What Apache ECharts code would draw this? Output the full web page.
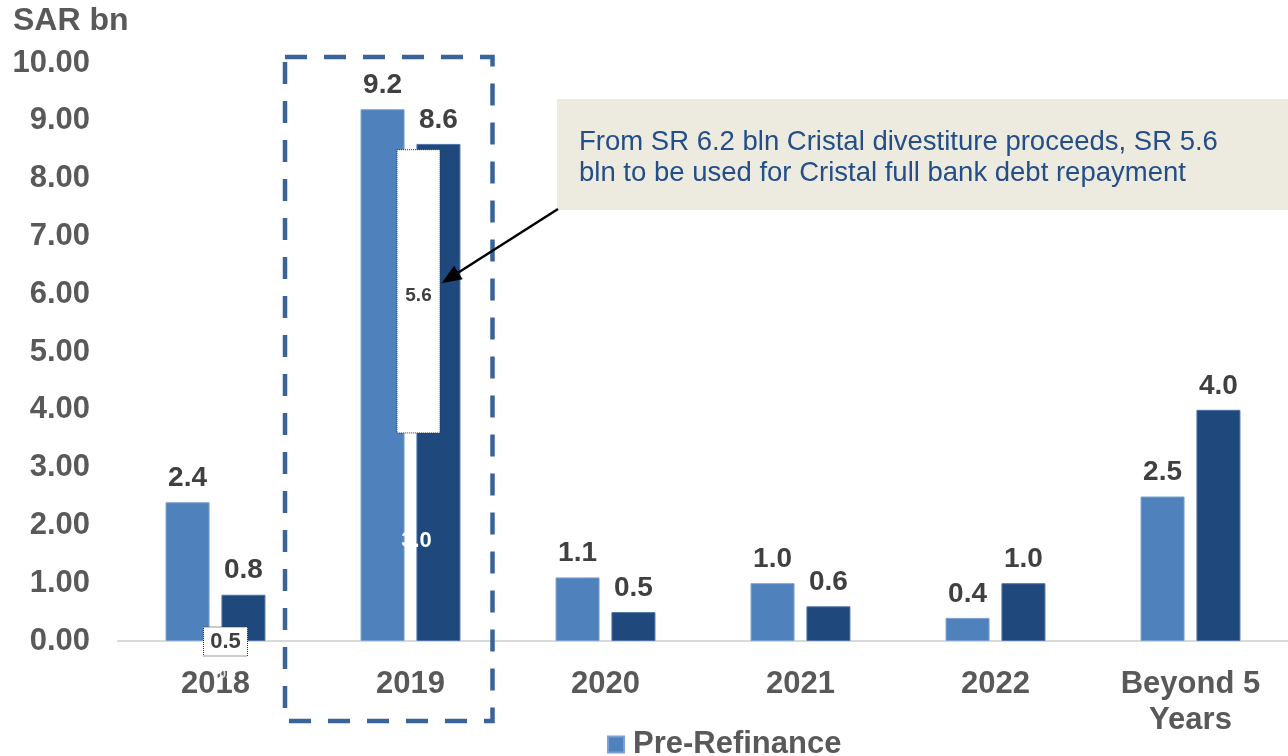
<!DOCTYPE html>
<html><head><meta charset="utf-8">
<script src="https://cdn.jsdelivr.net/npm/echarts@6/dist/echarts.min.js"></script>
<style>html,body{margin:0;padding:0;background:#fff}#c{width:1288px;height:756px}</style>
</head><body><div id="c"></div>
<script>
// ---- data ----
const categories = ['2018', '2019', '2020', '2021', '2022', 'Beyond 5\nYears'];
const seriesNames = ['Pre-Refinance', 'Post-Refinance'];
const preRefinance = [2.4, 9.2, 1.1, 1.0, 0.4, 2.5];
const postRefinance = [0.8, 8.6, 0.5, 0.6, 1.0, 4.0];
const yAxisMin = 0, yAxisMax = 10, yAxisStep = 1;
const unitLabel = 'SAR bn';
// annotations
const repaymentLabel = '5.6';          // Cristal bank debt repaid in 2019
const repaymentRange = [3.6, 8.5];     // extent of the white callout box (value units)
const remainingLabel = '3.0';          // remaining 2019 debt after repayment
const remainingAt = 1.73;
const box2018Label = '0.5';
const hidden2018Label = '0.3';
const noteLines = ['From SR 6.2 bln Cristal divestiture proceeds, SR 5.6', 'bln to be used for Cristal full bank debt repayment'];

const FONT = '"Liberation Sans", Arial, Helvetica, sans-serif';
const GREY = '#595959';
const LABEL = '#404040';

const chart = echarts.init(document.getElementById('c'), null, {renderer: 'canvas'});

const option = {
  animation: false,
  backgroundColor: '#ffffff',
  title: {
    text: unitLabel, left: 13, top: 5, padding: 0,
    textStyle: {fontFamily: FONT, fontSize: 32, fontWeight: 'bold', color: GREY}
  },
  legend: {
    orient: 'horizontal', left: 602, top: 724,
    itemWidth: 16, itemHeight: 16, itemGap: 600,
    icon: 'rect',
    data: seriesNames,
    textStyle: {fontFamily: FONT, fontSize: 31, fontWeight: 'bold', color: GREY, padding: [0, 0, 0, 4]}
  },
  grid: {left: 118, right: 0, top: 63, bottom: 115, containLabel: false},
  xAxis: {
    type: 'category', data: categories,
    axisLine: {show: true, lineStyle: {color: '#D9D9D9', width: 2}},
    axisTick: {show: false},
    axisLabel: {fontFamily: FONT, fontSize: 31, fontWeight: 'bold', color: GREY, margin: 25, lineHeight: 36, interval: 0}
  },
  yAxis: {
    type: 'value', min: yAxisMin, max: yAxisMax, interval: yAxisStep,
    axisLine: {show: false}, axisTick: {show: false}, splitLine: {show: false},
    axisLabel: {
      fontFamily: FONT, fontSize: 31, fontWeight: 'bold', color: GREY, margin: 28,
      formatter: v => v.toFixed(2)
    }
  },
  series: [
    {
      name: seriesNames[0], type: 'bar', data: preRefinance,
      barWidth: 44, barGap: '27%',
      itemStyle: {color: '#4F81BD', borderColor: '#7A9FD0', borderWidth: 1},
      label: {show: true, position: 'top', distance: 10, fontFamily: FONT, fontSize: 28, fontWeight: 'bold', color: LABEL,
        formatter: p => p.value.toFixed(1)}
    },
    {
      name: seriesNames[1], type: 'bar', data: postRefinance,
      barWidth: 44, barGap: '27%',
      itemStyle: {color: '#1F497D', borderColor: '#4F72A6', borderWidth: 1},
      label: {show: true, position: 'top', distance: 10, fontFamily: FONT, fontSize: 28, fontWeight: 'bold', color: LABEL,
        formatter: p => p.value.toFixed(1)}
    }
  ]
};
chart.setOption(option);

function px(cat, val) { return chart.convertToPixel({xAxisIndex: 0, yAxisIndex: 0}, [cat, val]); }

const p18 = px(0, 0), p19 = px(1, 0);
const yTop = px(1, yAxisMax)[1], y0 = p19[1];
const c18 = p18[0], c19 = p19[0];

const boxTop = px(1, repaymentRange[1])[1];
const boxBot = px(1, repaymentRange[0])[1];
const boxCx = c19 + 8;

const tip = [boxCx + 23, px(1, 6.19)[1]];
const tail = [558, 209];
const ang = Math.atan2(tip[1] - tail[1], tip[0] - tail[0]);
const ahL = 20, ahW = 8;
const base = [tip[0] - ahL * Math.cos(ang), tip[1] - ahL * Math.sin(ang)];
const nx = -Math.sin(ang), ny = Math.cos(ang);

const graphics = [
  // dashed highlight around 2019
  {type: 'rect', shape: {x: c19 - 125.5, y: yTop - 6, width: 207.5, height: (y0 + 80) - (yTop - 6)},
   style: {fill: 'none', stroke: '#386499', lineWidth: 4.5, lineDash: [22, 17]}, z: 10},
  // white repayment box
  {type: 'rect', shape: {x: boxCx - 21.5, y: boxTop, width: 43, height: boxBot - boxTop},
   style: {fill: '#ffffff', stroke: '#333333', lineWidth: 1, lineDash: [1, 1]}, z: 11},
  {type: 'text', x: boxCx, y: px(1, 5.98)[1], z: 12,
   style: {text: repaymentLabel, align: 'center', verticalAlign: 'middle', font: 'bold 19px ' + FONT, fill: LABEL}},
  // remaining 3.0 label (white)
  {type: 'text', x: boxCx - 2, y: px(1, remainingAt)[1], z: 12,
   style: {text: remainingLabel, align: 'center', verticalAlign: 'middle', font: 'bold 22px ' + FONT, fill: '#ffffff'}},
  // 2018 0.5 box
  {type: 'rect', shape: {x: c18 + 10 - 22, y: y0 - 14, width: 44, height: 29},
   style: {fill: '#ffffff', stroke: '#333333', lineWidth: 1, lineDash: [1, 1]}, z: 11},
  {type: 'text', x: c18 + 10, y: y0 + 1, z: 12,
   style: {text: box2018Label, align: 'center', verticalAlign: 'middle', font: 'bold 22px ' + FONT, fill: LABEL}},
  {type: 'text', x: c18 + 12, y: y0 + 34, z: 12,
   style: {text: hidden2018Label, align: 'center', verticalAlign: 'middle', font: 'bold 12px ' + FONT, fill: '#ffffff', opacity: 0.85}},
  // annotation note
  {type: 'rect', shape: {x: 557, y: 99, width: 731, height: 111}, style: {fill: '#EDEBE0'}, z: 9},
  {type: 'text', x: 579, y: 142, z: 12,
   style: {text: noteLines[0], verticalAlign: 'middle', font: '27.5px ' + FONT, fill: '#244E88'}},
  {type: 'text', x: 579, y: 173, z: 12,
   style: {text: noteLines[1], verticalAlign: 'middle', font: '27.5px ' + FONT, fill: '#244E88'}},
  // arrow
  {type: 'line', shape: {x1: tail[0], y1: tail[1], x2: base[0], y2: base[1]},
   style: {stroke: '#000000', lineWidth: 2.5}, z: 13},
  {type: 'polygon', shape: {points: [tip, [base[0] + nx * ahW, base[1] + ny * ahW], [base[0] - nx * ahW, base[1] - ny * ahW]]},
   style: {fill: '#000000'}, z: 13}
];
chart.setOption({graphic: graphics});
</script>
</body></html>
